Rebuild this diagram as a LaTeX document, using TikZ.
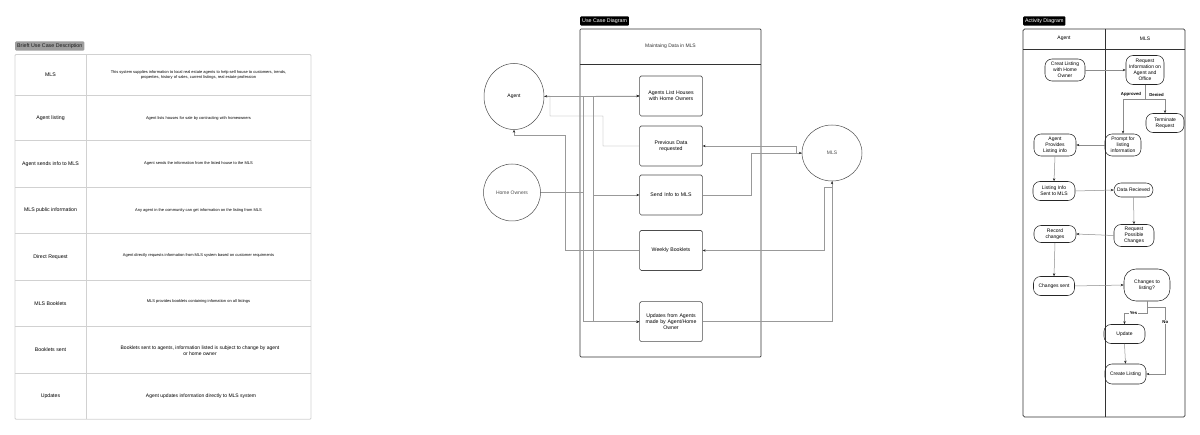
\documentclass[tikz,border=0pt]{standalone}
\usepackage{fontspec}
\setmainfont{Liberation Sans}
\usetikzlibrary{positioning,shapes.geometric,arrows.meta,calc}

\tikzset{
    tag/.style={anchor=west, inner xsep=2pt, inner ysep=2.2pt, rounded corners=1pt, font=\fontsize{5.3}{5.6}\selectfont},
    grid/.style={draw=black!18, line width=0.8pt},
    term/.style={align=center, font=\fontsize{5.2}{6}\selectfont},
    desc/.style={align=center, font=\fontsize{4}{4.9}\selectfont},
    ucase/.style={rectangle, rounded corners=1.5pt, draw=black!70, line width=0.6pt, minimum width=60pt, minimum height=40pt, text width=56pt, align=center, font=\fontsize{5.2}{6.2}\selectfont},
    actor/.style={ellipse, draw=black!70, line width=0.5pt, inner sep=0pt, font=\fontsize{5}{6}\selectfont},
    link/.style={draw=black!40, line width=0.45pt, -{Stealth[length=3pt, width=2.4pt, color=black!85]}},
    act/.style={rectangle, rounded corners=7pt, draw=black!85, line width=0.55pt, align=center, inner sep=0.5pt, font=\fontsize{5}{5.9}\selectfont},
    flow/.style={draw=black!45, line width=0.5pt, -{Stealth[length=3pt, width=2.4pt, color=black!85]}},
    lbl/.style={inner sep=0.5pt, font=\fontsize{4.3}{4.6}\selectfont\bfseries}
}

\begin{document}
\begin{tikzpicture}[x=1pt, y=-1pt]
    \useasboundingbox (0,0) rectangle (1200,435);

    % brief use case description
    \node[tag, fill=black!38, text=black!90] (desctag) at (15,46) {Brieft Use Case Description};
    \draw[grid, rounded corners=1pt] (15,54.5) rectangle (311,419.3);
    \draw[grid] (86,54.5) -- (86,419.3);
    \foreach \y in {95.3,140.7,187.3,233.3,280.3,326.7,373.3}
        \draw[grid] (15,\y) -- (311,\y);

    \node[term] (tmls) at (50.5,75) {MLS};
    \node[desc] (dmls) at (198.5,75) {This system supplies information to local real estate agents to help sell house to customers, trends,\\properties, history of sales, current listings, real estate profession};
    \node[term] (tlisting) at (50.5,118) {Agent listing};
    \node[desc] (dlisting) at (198.5,118) {Agent lists houses for sale by contracting with homeowners};
    \node[term] (tsends) at (50.5,164) {Agent sends info to MLS};
    \node[desc] (dsends) at (198.5,163.5) {Agent sends the information from the listed house to the MLS};
    \node[term] (tpublic) at (50.5,210.3) {MLS public information};
    \node[desc] (dpublic) at (198.5,210) {Any agent in the community can get information on the listing from MLS};
    \node[term] (tdirect) at (50.5,256.8) {Direct Request};
    \node[desc] (ddirect) at (198.5,255.5) {Agent directly requests information from MLS system based on customer requirments};
    \node[term] (tbooklets) at (50.5,303.5) {MLS Booklets};
    \node[desc] (dbooklets) at (198.5,301) {MLS provides booklets containing infomation on all listings};
    \node[term] (tsent) at (50.5,350) {Booklets sent};
    \node[desc, font=\fontsize{5}{6.4}\selectfont] (dsent) at (200,351) {Booklets sent to agents, information listed is subject to change by agent\\or home owner};
    \node[term] (tupdates) at (50.5,396.3) {Updates};
    \node[desc, font=\fontsize{5}{6}\selectfont] (dupdates) at (201,396) {Agent updates information directly to MLS system};

    % use case diagram
    \node[tag, fill=black, text=white] (uctag) at (580,21) {Use Case Diagram};
    \draw[black!80, line width=0.7pt, rounded corners=1pt] (580,29) rectangle (761,357);
    \draw[black!80, line width=0.7pt] (580,64) -- (761,64);
    \node[font=\fontsize{5}{6}\selectfont, text=black!80] (uctitle) at (670.5,46.5) {Maintaing Data in MLS};

    \node[actor, minimum width=60pt, minimum height=66pt] (agent) at (514,96.5) {Agent};
    \node[actor, minimum width=57pt, minimum height=57pt, text=black!70] (owners) at (512,192.5) {Home Owners};
    \node[actor, minimum width=60pt, minimum height=56pt, text=black!70] (mls) at (832,153) {MLS};

    \node[ucase] (listhouses) at (671,96) {Agents List Houses\\with Home Owners};
    \node[ucase] (previous) at (671,146) {Previous Data\\requested};
    \node[ucase] (sendinfo) at (671,195) {Send Info to MLS};
    \node[ucase] (weekly) at (671,250.5) {Weekly Booklets};
    \node[ucase] (updates) at (671,321.7) {Updates from Agents\\made by Agent/Home\\Owner};

    \coordinate (ownerbus) at (583,0);
    \coordinate (agentbus) at (593,0);

    \draw[link] (agent.east) -- (listhouses.west);
    \draw[link] (owners.east) -| (ownerbus |- listhouses.west) -- (listhouses.west);
    \draw[link] (owners.east) -| (ownerbus |- updates.west) -- (updates.west);
    \draw[link] (agent.east) -| (agentbus |- sendinfo.west) -- (sendinfo.west);
    \draw[link] (agent.east) -| (agentbus |- updates.west) -- (updates.west);
    \draw[link] (previous.west) -| (603,116) -| (550,96) -- (agent.east);
    \draw[link] (weekly.west) -| (565,135) -| (agent.south);
    \draw[link] (mls.west) -| (796,146) -- (previous.east);
    \draw[link] (sendinfo.east) -| (751,153) -- (mls.west);
    \draw[link] (mls.south) |- (824,187) |- (weekly.east);
    \draw[link] (updates.east) -| (mls.south);

    % activity diagram
    \node[tag, fill=black, text=white] (adtag) at (1023,21) {Activity Diagram};
    \draw[black!80, line width=0.7pt, rounded corners=1.5pt] (1023,29) rectangle (1185,417);
    \draw[black!80, line width=0.7pt] (1105,29) -- (1105,417);
    \draw[black!80, line width=0.7pt] (1023,49) -- (1185,49);
    \node[font=\fontsize{5}{6}\selectfont] (laneagent) at (1064,38.5) {Agent};
    \node[font=\fontsize{5}{6}\selectfont] (lanemls) at (1145,38.5) {MLS};

    \node[act, minimum width=40pt, minimum height=22pt] (creat) at (1065,70) {Creat Listing\\with Home\\Owner};
    \node[act, minimum width=38pt, minimum height=29pt] (reqinfo) at (1145,70) {Request\\Information on\\Agent and\\Office};
    \node[act, minimum width=38pt, minimum height=19pt] (terminate) at (1165,123) {Terminate\\Request};
    \node[act, minimum width=36pt, minimum height=22pt] (prompt) at (1123,145) {Prompt for\\listing\\information};
    \node[act, minimum width=42pt, minimum height=22pt] (provides) at (1055,145) {Agent\\Provides\\Listing info};
    \node[act, minimum width=42pt, minimum height=19pt] (infosent) at (1054,191) {Listing Info\\Sent to MLS};
    \node[act, minimum width=39pt, minimum height=14pt] (received) at (1133.5,190) {Data Recieved};
    \node[act, minimum width=40pt, minimum height=22pt] (reqchanges) at (1134,235.5) {Request\\Possible\\Changes};
    \node[act, minimum width=42pt, minimum height=17pt] (record) at (1055,234) {Record\\changes};
    \node[act, minimum width=41pt, minimum height=19pt] (chsent) at (1054,286) {Changes sent};
    \node[act, rounded corners=12pt, minimum width=46pt, minimum height=32pt] (chquery) at (1147,285) {Changes to\\listing?};
    \node[act, minimum width=41pt, minimum height=19pt] (update) at (1124.5,334) {Update};
    \node[act, minimum width=41pt, minimum height=20pt] (create) at (1125.5,374) {Create Listing};

    \draw[flow] (creat.east) -- (reqinfo.west);
    \path (reqinfo.south) ++(0,14.5) coordinate (decide);
    \draw[flow] (reqinfo.south) -- (decide) -| (prompt.north);
    \draw[flow] (decide) -| (terminate.north);
    \node[lbl] (approved) at (1131,94.5) {Approved};
    \node[lbl] (denied) at (1156.5,94.5) {Denied};
    \draw[flow] (prompt.west) -- (provides.east);
    \draw[flow] (provides.south) -- (infosent.north);
    \draw[flow] (infosent.east) -- (received.west);
    \draw[flow] (received.south) -- (reqchanges.north);
    \draw[flow] (reqchanges.west) -- (record.east);
    \draw[flow] (record.south) -- (chsent.north);
    \draw[flow] (chsent.east) -- (chquery.west);
    \draw[flow] (chquery.south) -- ++(0,11.5) -| node[lbl, pos=0.3, fill=white] (yes) {Yes} (update.north);
    \draw[flow] (chquery.south) -- ++(0,6) -| node[lbl, pos=0.61, fill=white] (no) {No} ($(create.east)+(19,0)$) -- (create.east);
    \draw[flow] (update.south) -- (create.north);
\end{tikzpicture}
\end{document}
